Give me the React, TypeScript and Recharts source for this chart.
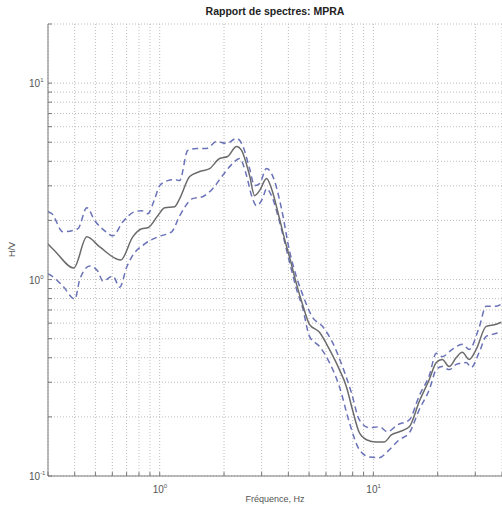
import { LineChart, Line, XAxis, YAxis, CartesianGrid } from 'recharts'

// Frequency ticks (log grid) and H/V ticks
const xTicks = [0.3, 0.4, 0.5, 0.6, 0.7, 0.8, 0.9, 1, 2, 3, 4, 5, 6, 7, 8, 9, 10, 20, 30, 40]
const yTicks = [0.1, 0.2, 0.3, 0.4, 0.5, 0.6, 0.7, 0.8, 0.9, 1, 2, 3, 4, 5, 6, 7, 8, 9, 10, 20]

// mean H/V curve
const meanFreq = [0.3, 0.323, 0.396, 0.456, 0.524, 0.657, 0.748, 0.824, 0.879, 0.979, 1.055, 1.175, 1.24, 1.381, 1.538, 1.713, 1.907, 2.078, 2.289, 2.416, 2.634, 2.779, 2.933, 3.162, 3.337, 3.637, 3.838, 4.05, 4.368, 4.658, 5.023, 5.595, 6.229, 6.936, 7.478, 7.979, 8.602, 9.276, 10.33, 11.26, 12.14, 13.23, 14.73, 16.41, 18.27, 19.7, 21.01, 22.65, 24.43, 26.06, 28.1, 30.29, 33.73, 37.57, 39.64]
const meanHV = [1.519, 1.399, 1.145, 1.65, 1.466, 1.258, 1.65, 1.813, 1.834, 2.113, 2.321, 2.349, 2.581, 3.344, 3.547, 3.674, 4.135, 4.233, 4.761, 4.543, 3.384, 2.674, 2.836, 3.267, 2.903, 2.039, 1.612, 1.304, 0.948, 0.749, 0.592, 0.539, 0.441, 0.348, 0.285, 0.218, 0.166, 0.153, 0.149, 0.149, 0.162, 0.168, 0.178, 0.24, 0.31, 0.378, 0.392, 0.361, 0.401, 0.426, 0.392, 0.441, 0.578, 0.592, 0.606]

// mean + std
const upperFreq = [0.3, 0.313, 0.352, 0.414, 0.456, 0.497, 0.553, 0.603, 0.672, 0.764, 0.824, 0.879, 0.948, 1.0, 1.09, 1.175, 1.24, 1.352, 1.489, 1.658, 1.846, 2.056, 2.289, 2.443, 2.634, 2.779, 2.933, 3.162, 3.373, 3.716, 4.05, 4.368, 4.658, 5.188, 5.777, 6.434, 7.165, 7.89, 8.602, 9.58, 10.67, 11.63, 12.95, 14.73, 16.41, 18.27, 19.7, 21.01, 23.39, 26.06, 28.1, 31.28, 33.73, 37.57, 39.64]
const upperHV = [2.215, 2.163, 1.75, 1.813, 2.321, 1.992, 1.77, 1.669, 1.968, 2.215, 2.24, 2.163, 2.581, 3.008, 3.19, 3.228, 3.19, 4.543, 4.651, 4.651, 5.05, 4.933, 5.232, 4.818, 3.674, 3.008, 3.08, 3.674, 3.384, 2.294, 1.399, 1.03, 0.843, 0.643, 0.578, 0.479, 0.361, 0.266, 0.193, 0.176, 0.178, 0.168, 0.182, 0.193, 0.257, 0.325, 0.421, 0.405, 0.441, 0.468, 0.441, 0.572, 0.732, 0.732, 0.749]

// mean - std
const lowerFreq = [0.3, 0.313, 0.352, 0.401, 0.423, 0.471, 0.513, 0.542, 0.603, 0.65, 0.701, 0.74, 0.851, 0.979, 1.138, 1.24, 1.426, 1.588, 1.769, 1.969, 2.193, 2.365, 2.549, 2.691, 2.84, 3.029, 3.162, 3.337, 3.637, 4.05, 4.368, 4.658, 5.023, 5.595, 6.229, 6.936, 7.724, 8.602, 9.58, 10.67, 11.63, 13.23, 14.73, 16.41, 18.27, 19.7, 21.01, 22.65, 24.43, 27.2, 28.71, 31.28, 33.73, 35.98, 39.64]
const lowerHV = [1.067, 1.042, 0.926, 0.795, 1.006, 1.172, 1.105, 0.982, 1.042, 0.915, 1.159, 1.304, 1.519, 1.65, 1.75, 2.113, 2.581, 2.642, 2.903, 3.384, 3.898, 4.135, 3.384, 2.674, 2.377, 2.581, 2.903, 2.674, 1.968, 1.229, 0.894, 0.723, 0.514, 0.457, 0.378, 0.285, 0.187, 0.136, 0.125, 0.124, 0.133, 0.153, 0.166, 0.218, 0.275, 0.348, 0.361, 0.348, 0.37, 0.378, 0.357, 0.426, 0.514, 0.526, 0.539]

const toPoints = (f: number[], v: number[]) => f.map((x, i) => ({ f: x, hv: v[i] }))

const FONT = '"Liberation Sans", Arial, sans-serif'
const AXIS = '#7a7a7a'

function powerOf(v: number) {
  const e = Math.round(Math.log10(v))
  return Math.abs(Math.log10(v) - e) < 1e-6 ? e : null
}

function BottomTick({ x, y, payload }: any) {
  const e = powerOf(payload.value)
  return (
    <g>
      <line x1={x} x2={x} y1={y} y2={y - 4} stroke={AXIS} />
      {e !== null && (
        <text x={x - 7} y={y + 17} fontSize={10} fill="#555" fontFamily={FONT}>
          10<tspan dy={-5} fontSize={6}>{e}</tspan>
        </text>
      )}
    </g>
  )
}

function TopTick({ x, y }: any) {
  return <line x1={x} x2={x} y1={y} y2={y + 4} stroke={AXIS} />
}

function LeftTick({ x, y, payload }: any) {
  const e = powerOf(payload.value)
  return (
    <g>
      <line x1={x} x2={x + 4} y1={y} y2={y} stroke={AXIS} />
      {e !== null && (
        <text x={x - 19} y={y + 4} fontSize={10} fill="#555" fontFamily={FONT}>
          10<tspan dy={-5} fontSize={6}>{e}</tspan>
        </text>
      )}
    </g>
  )
}

export default function App() {
  return (
    <div style={{ position: 'absolute', left: 0, top: 0, width: 502, height: 511, background: '#fff', overflow: 'hidden' }}>
      <div
        style={{
          position: 'absolute', left: 48, width: 454, top: 5, textAlign: 'center',
          fontFamily: FONT, fontWeight: 'bold', fontSize: 10.5, color: '#222',
        }}
      >
        Rapport de spectres: MPRA
      </div>
      <div
        style={{
          position: 'absolute', left: 48, width: 454, top: 494, textAlign: 'center',
          fontFamily: FONT, fontSize: 9, color: '#555',
        }}
      >
        Fréquence, Hz
      </div>
      <div
        style={{
          position: 'absolute', left: 5, top: 244, width: 14, height: 12,
          transform: 'rotate(-90deg)', textAlign: 'center',
          fontFamily: FONT, fontSize: 9, color: '#555', lineHeight: '12px',
        }}
      >
        H/V
      </div>
      <LineChart width={502} height={511} margin={{ top: 24, right: 0, bottom: 5, left: 0 }}>
        <CartesianGrid stroke="#bdbdbd" strokeDasharray="1 2" />
        <XAxis
          dataKey="f"
          type="number"
          scale="log"
          domain={[0.3, 40]}
          ticks={xTicks}
          allowDataOverflow
          height={30}
          tickSize={0}
          tickMargin={0}
          tick={<BottomTick />}
          axisLine={{ stroke: AXIS }}
          interval={0}
        />
        <XAxis
          xAxisId="top"
          orientation="top"
          dataKey="f"
          type="number"
          scale="log"
          domain={[0.3, 40]}
          ticks={xTicks}
          allowDataOverflow
          height={0}
          tickSize={0}
          tickMargin={0}
          tick={<TopTick />}
          axisLine={{ stroke: AXIS }}
          interval={0}
        />
        <YAxis
          dataKey="hv"
          type="number"
          scale="log"
          domain={[0.1, 20]}
          ticks={yTicks}
          allowDataOverflow
          width={48}
          tickSize={0}
          tickMargin={0}
          tick={<LeftTick />}
          axisLine={{ stroke: AXIS }}
          interval={0}
        />
        <Line
          data={toPoints(upperFreq, upperHV)}
          dataKey="hv"
          type="monotone"
          stroke="#6a72b8"
          strokeWidth={1.5}
          strokeDasharray="6 4"
          dot={false}
          isAnimationActive={false}
        />
        <Line
          data={toPoints(lowerFreq, lowerHV)}
          dataKey="hv"
          type="monotone"
          stroke="#6a72b8"
          strokeWidth={1.5}
          strokeDasharray="6 4"
          dot={false}
          isAnimationActive={false}
        />
        <Line
          data={toPoints(meanFreq, meanHV)}
          dataKey="hv"
          type="monotone"
          stroke="#6b6b6b"
          strokeWidth={1.5}
          dot={false}
          isAnimationActive={false}
        />
      </LineChart>
    </div>
  )
}
